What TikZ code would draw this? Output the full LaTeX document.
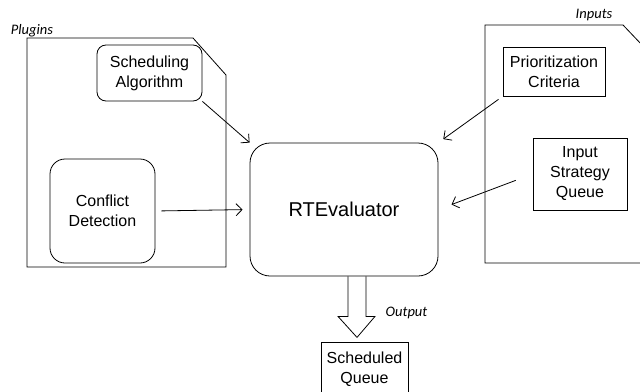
\documentclass[tikz,border=0pt]{standalone}
\usepackage{fontspec}
\setmainfont{Liberation Sans}
\newfontfamily\notefont{Carlito}
\usetikzlibrary{arrows.meta}

\begin{document}
\begin{tikzpicture}[x=1pt,y=-1pt]
        \tikzstyle{every path}=[line width=0.8pt]

        \tikzstyle{box}=[draw,align=center,inner sep=2pt,font=\fontsize{16}{20}\selectfont]
        \tikzstyle{rbox}=[box,rounded corners=9pt]
        \tikzstyle{note}=[font=\notefont\itshape\fontsize{14.5}{16}\selectfont]
        \tikzstyle{link}=[-{Straight Barb[length=6pt,width=12pt]}]

        \useasboundingbox (0,0) rectangle (640,391);

        % folders
        \draw (27,38) -- (193,38) -- (226,75) -- (226,267) -- (27,267) -- cycle;
        \draw (485,25) -- (623,25) -- (662,66) -- (662,263) -- (485,263) -- cycle;
        \node [note] (plug_label) at (32,31) {Plugins};
        \node [note] (inp_label) at (594,15) {Inputs};

        % plugins
        \node [rbox,minimum width=105pt,minimum height=56pt] (sched) at (149.5,73) {Scheduling\\Algorithm};
        \node [rbox,rounded corners=15pt,minimum width=105pt,minimum height=104pt] (conf) at (102.5,211) {Conflict\\Detection};

        % inputs
        \node [box,minimum width=102pt,minimum height=49pt] (prio) at (554,71.5) {Prioritization\\Criteria};
        \node [box,minimum width=94pt,minimum height=72pt] (isq) at (580,174) {Input\\Strategy\\Queue};

        % evaluator
        \node [rbox,rounded corners=20pt,minimum width=188pt,minimum height=133pt,
               font=\fontsize{20}{24}\selectfont] (rte) at (344,209.5) {RTEvaluator};

        \node [box,minimum width=87pt,minimum height=54pt] (out_q) at (364.5,369) {Scheduled\\Queue};

        % arrows into the evaluator
        \draw [link] (sched.south east) -- (rte.north west);
        \draw [link,shorten <=6pt,shorten >=7pt] (conf.east) -- (rte.west);
        \draw [link,shorten <=5pt,shorten >=6pt] (prio.south west) -- (rte.north east);
        \draw [link,shorten <=18pt,shorten >=14pt] (isq.west) -- (rte.east);

        % output
        \coordinate (out) at ([xshift=13pt]rte.south);
        \draw (out) ++(-9,0) -- ++(0,40) -- ++(-10,0) -- ++(19,21) -- ++(18,-21) -- ++(-9,0) -- ++(0,-40);
        \node [note,anchor=west] (out_label) at (382,313) {Output};
\end{tikzpicture}
\end{document}
